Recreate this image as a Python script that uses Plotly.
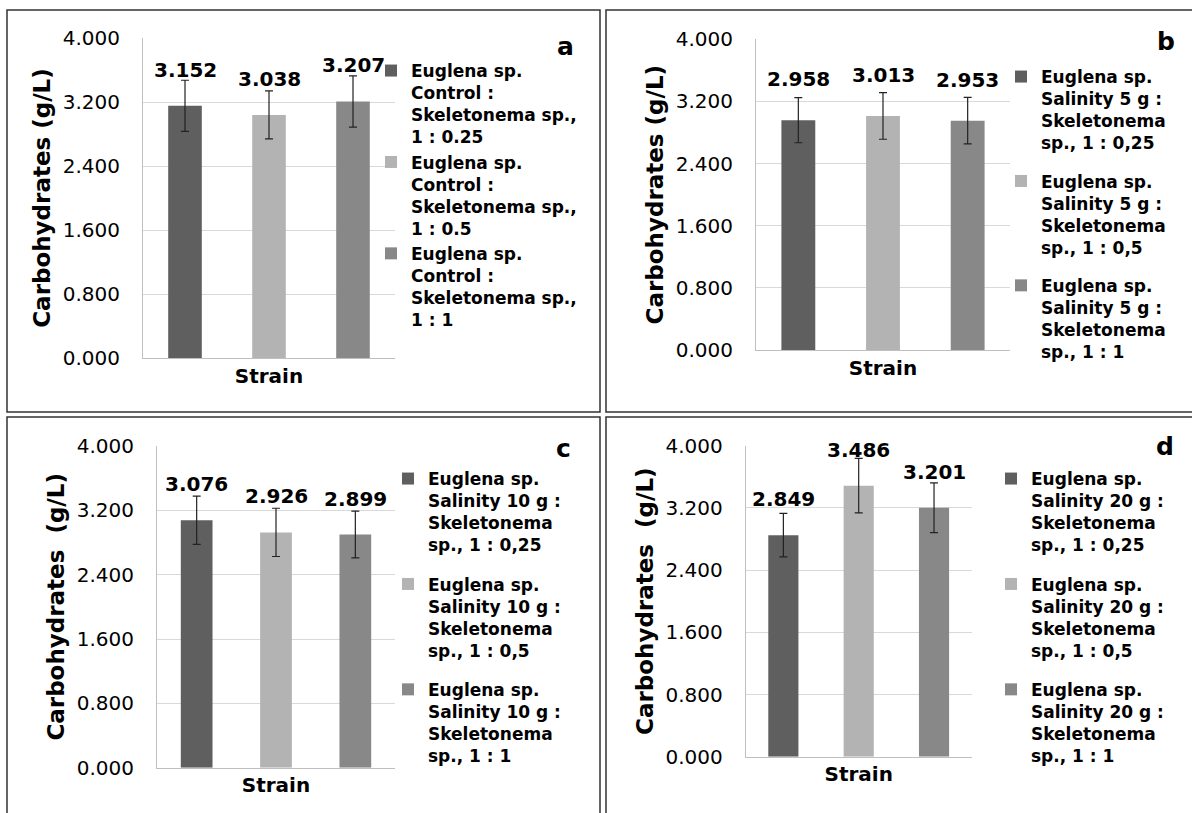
import plotly.graph_objects as go

W, H = 1192, 813

# ---------------- data ----------------
panel_letters = ["a", "b", "c", "d"]

series_a = ["Euglena sp.<br>Control :<br>Skeletonema sp.,<br>1 : 0.25",
            "Euglena sp.<br>Control :<br>Skeletonema sp.,<br>1 : 0.5",
            "Euglena sp.<br>Control :<br>Skeletonema sp.,<br>1 : 1"]
series_b = ["Euglena sp.<br>Salinity 5 g :<br>Skeletonema<br>sp., 1 : 0,25",
            "Euglena sp.<br>Salinity 5 g :<br>Skeletonema<br>sp., 1 : 0,5",
            "Euglena sp.<br>Salinity 5 g :<br>Skeletonema<br>sp., 1 : 1"]
series_c = ["Euglena sp.<br>Salinity 10 g :<br>Skeletonema<br>sp., 1 : 0,25",
            "Euglena sp.<br>Salinity 10 g :<br>Skeletonema<br>sp., 1 : 0,5",
            "Euglena sp.<br>Salinity 10 g :<br>Skeletonema<br>sp., 1 : 1"]
series_d = ["Euglena sp.<br>Salinity 20 g :<br>Skeletonema<br>sp., 1 : 0,25",
            "Euglena sp.<br>Salinity 20 g :<br>Skeletonema<br>sp., 1 : 0,5",
            "Euglena sp.<br>Salinity 20 g :<br>Skeletonema<br>sp., 1 : 1"]

values_a = [3.152, 3.038, 3.207]
values_b = [2.958, 3.013, 2.953]
values_c = [3.076, 2.926, 2.899]
values_d = [2.849, 3.486, 3.201]

errors_a = [0.32, 0.30, 0.32]
errors_b = [0.29, 0.30, 0.30]
errors_c = [0.30, 0.30, 0.29]
errors_d = [0.28, 0.35, 0.32]

y_ticks = [0.0, 0.8, 1.6, 2.4, 3.2, 4.0]
x_title = "Strain"
y_titles = ["Carbohydrates (g/L)", "Carbohydrates (g/L)",
            "Carbohydrates  (g/L)", "Carbohydrates  (g/L)"]

# ---------------- style ----------------
colors = ["#5f5f5f", "#b3b3b3", "#888888"]
FONT = "DejaVu Sans"

panels = [
    dict(series=series_a, values=values_a, errors=errors_a, plot=(143, 395, 38, 358),
         border=(7, 601, 10, 413), legend=(371, 53), gap=0, letter=(565, 47), lshift=36),
    dict(series=series_b, values=values_b, errors=errors_b, plot=(756, 1010, 39.3, 350),
         border=(606, 1196, 10, 413), legend=(1001, 59), gap=13, letter=(1166, 42), lshift=41),
    dict(series=series_c, values=values_c, errors=errors_c, plot=(157, 395, 446, 767.7),
         border=(7, 601, 417, 818), legend=(388, 461), gap=14, letter=(563, 449), lshift=36),
    dict(series=series_d, values=values_d, errors=errors_d, plot=(745.7, 971.7, 445.7, 756.7),
         border=(606, 1196, 417, 818), legend=(991, 461), gap=14, letter=(1165, 446), lshift=36),
]


def px(x):
    return x / W


def py(y):
    return 1 - y / H


fig = go.Figure()
annotations = []
shapes = []
layout_extra = {}

for i, p in enumerate(panels):
    n = i + 1
    xa = "x" if n == 1 else f"x{n}"
    ya = "y" if n == 1 else f"y{n}"
    lg = "legend" if n == 1 else f"legend{n}"
    for j, (name, v, e) in enumerate(zip(p["series"], p["values"], p["errors"])):
        fig.add_trace(go.Bar(
            x=[name], y=[v], name=name, xaxis=xa, yaxis=ya, legend=lg,
            legendgroup=f"p{n}s{j}",
            width=0.4,
            marker=dict(color=colors[j], line=dict(width=0)),
            error_y=dict(type="data", array=[e], visible=True,
                         color="#222222", thickness=1.2, width=4),
            hoverinfo="skip",
        ))
        annotations.append(dict(
            x=name, y=v, xref=xa, yref=ya, text=f"<b>{v:.3f}</b>",
            showarrow=False, yshift=p["lshift"], yanchor="middle",
            font=dict(family=FONT, size=20, color="#000000")))

    x0, x1, yt, yb = p["plot"]
    key = "" if n == 1 else str(n)
    layout_extra[f"xaxis{key}"] = dict(
        domain=[px(x0), px(x1)], anchor=ya, type="category",
        showticklabels=False, ticks="", showgrid=False, automargin=False,
        showline=True, linecolor="#bfbfbf", linewidth=1, zeroline=False,
        title=dict(text=f"<b>{x_title}</b>", standoff=10,
                   font=dict(family=FONT, size=20, color="#000000")),
        fixedrange=True,
    )
    layout_extra[f"yaxis{key}"] = dict(
        domain=[py(yb), py(yt)], anchor=xa, range=[0, 4], automargin=False,
        tickvals=y_ticks, tickformat=".3f", ticks="",
        showgrid=True, gridcolor="#d9d9d9", gridwidth=1,
        showline=True, linecolor="#bfbfbf", linewidth=1, zeroline=False,
        ticklabelstandoff=18,
        tickfont=dict(family=FONT, size=20, color="#000000"),
        title=dict(text=f"<b>{y_titles[i]}</b>", standoff=5,
                   font=dict(family=FONT, size=23, color="#000000")),
        fixedrange=True,
    )
    lx, ly = p["legend"]
    layout_extra[lg] = dict(
        x=px(lx), y=py(ly), xanchor="left", yanchor="top",
        font=dict(family=FONT, size=17, color="#000000", weight="bold"),
        bgcolor="rgba(0,0,0,0)", borderwidth=0, valign="top",
        tracegroupgap=p["gap"], itemclick=False, itemdoubleclick=False,
    )
    bx0, bx1, by0, by1 = p["border"]
    shapes.append(dict(type="rect", xref="paper", yref="paper",
                       x0=px(bx0), x1=px(bx1 - 1), y0=py(by1 - 1), y1=py(by0),
                       line=dict(color="#333333", width=1.5), fillcolor="rgba(0,0,0,0)"))
    lxp, lyp = p["letter"]
    annotations.append(dict(x=px(lxp), y=py(lyp), xref="paper", yref="paper",
                            text=f"<b>{panel_letters[i]}</b>", showarrow=False,
                            xanchor="center", yanchor="middle",
                            font=dict(family=FONT, size=25, color="#000000")))

fig.update_layout(
    template="none",
    width=W, height=H,
    margin=dict(l=0, r=0, t=0, b=0, autoexpand=False),
    paper_bgcolor="white", plot_bgcolor="white",
    barmode="overlay",
    showlegend=True,
    annotations=annotations,
    shapes=shapes,
    font=dict(family=FONT, color="#000000"),
    **layout_extra,
)

fig.write_html("out.html",
               config={"displayModeBar": False, "staticPlot": True},
               post_script="document.body.style.margin='0';document.body.style.overflow='hidden';")
